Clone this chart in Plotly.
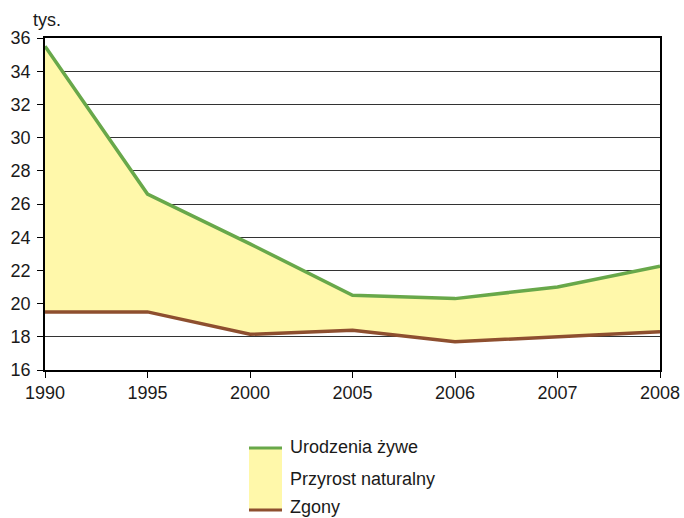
import plotly.graph_objects as go

years = ["1990", "1995", "2000", "2005", "2006", "2007", "2008"]
births = [35.5, 26.6, 23.6, 20.5, 20.3, 21.0, 22.25]
deaths = [19.5, 19.5, 18.15, 18.4, 17.7, 18.0, 18.3]
y_ticks = [16, 18, 20, 22, 24, 26, 28, 30, 32, 34, 36]
legend_labels = ["Urodzenia żywe", "Przyrost naturalny", "Zgony"]

GREEN = "#68A84A"
BROWN = "#8E4F2F"
FILL = "#FFF8AA"
FONT = "Liberation Sans, Arial, sans-serif"
FS = 18

fig = go.Figure()
fig.add_trace(go.Scatter(x=years, y=deaths, mode="lines",
                         line=dict(color=BROWN, width=3.5), showlegend=False))
fig.add_trace(go.Scatter(x=years, y=births, mode="lines", fill="tonexty",
                         fillcolor=FILL, line=dict(color=GREEN, width=3.5),
                         showlegend=False))

fig.update_layout(
    width=684, height=518,
    margin=dict(l=45, r=24, t=38, b=148, autoexpand=False),
    paper_bgcolor="white", plot_bgcolor="white",
    font=dict(family=FONT, size=FS, color="#1a1a1a"),
    showlegend=False,
)
fig.update_xaxes(type="category", range=[0, 6], showgrid=False,
                 automargin=False,
                 showline=True, linecolor="black", linewidth=1.5, mirror=True,
                 ticks="outside", ticklen=6, tickcolor="black",
                 tickfont=dict(size=FS))
fig.update_yaxes(range=[16, 36], tickvals=y_ticks, showgrid=True,
                 automargin=False,
                 gridcolor="#333333", gridwidth=1,
                 showline=True, linecolor="black", linewidth=1.5, mirror=True,
                 ticks="outside", ticklen=6, tickcolor="black",
                 ticklabelstandoff=3,
                 tickfont=dict(size=FS), zeroline=False)

fig.add_annotation(text="tys.", xref="paper", yref="paper",
                   x=(47 - 45) / 615, y=(370 - 20) / 332,
                   xanchor="center", yanchor="middle",
                   showarrow=False, font=dict(size=FS))

# legend drawn manually
fig.add_shape(type="rect", xref="paper", yref="paper",
              x0=(249 - 45) / 615, x1=(282 - 45) / 615,
              y0=(370 - 510) / 332, y1=(370 - 448) / 332,
              fillcolor=FILL, line=dict(width=0))
fig.add_shape(type="line", xref="paper", yref="paper",
              x0=(249 - 45) / 615, x1=(282 - 45) / 615,
              y0=(370 - 448) / 332, y1=(370 - 448) / 332,
              line=dict(color=GREEN, width=3))
fig.add_shape(type="line", xref="paper", yref="paper",
              x0=(249 - 45) / 615, x1=(282 - 45) / 615,
              y0=(370 - 510) / 332, y1=(370 - 510) / 332,
              line=dict(color=BROWN, width=3))
for label, ypx in zip(legend_labels, [447, 479, 507]):
    fig.add_annotation(text=label, xref="paper", yref="paper",
                       x=(288 - 45) / 615, y=(370 - ypx) / 332,
                       xanchor="left", yanchor="middle", showarrow=False,
                       font=dict(size=FS))

fig.write_html("out.html",
               config={"displayModeBar": False},
               post_script="document.body.style.margin='0';"
                           "document.body.style.overflow='hidden';")
